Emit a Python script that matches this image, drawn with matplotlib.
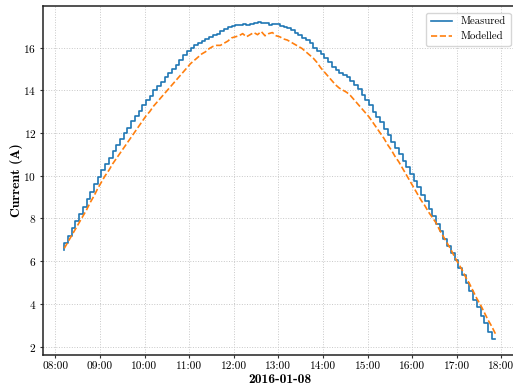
import matplotlib
matplotlib.use("Agg")
import matplotlib.pyplot as plt
import matplotlib.dates as mdates
import pandas as pd

start_time = "2016-01-08 08:12"
step = "5min"

measured = [
    6.50, 6.85, 7.20, 7.55, 7.90, 8.20, 8.55, 8.90, 9.25, 9.60,
    9.95, 10.25, 10.55, 10.85, 11.15, 11.45, 11.70, 12.00, 12.25, 12.55,
    12.80, 13.05, 13.30, 13.55, 13.75, 14.00, 14.20, 14.40, 14.60, 14.80,
    15.00, 15.20, 15.40, 15.65, 15.85, 16.00, 16.10, 16.20, 16.30, 16.40,
    16.50, 16.60, 16.65, 16.75, 16.85, 16.95, 17.00, 17.05, 17.05, 17.10,
    17.05, 17.10, 17.15, 17.20, 17.15, 17.15, 17.05, 17.10, 17.10, 17.00,
    16.95, 16.90, 16.80, 16.70, 16.60, 16.45, 16.35, 16.20, 16.00, 15.85,
    15.70, 15.50, 15.30, 15.10, 14.95, 14.80, 14.70, 14.60, 14.45, 14.25,
    14.05, 13.80, 13.55, 13.30, 13.00, 12.75, 12.50, 12.20, 11.90, 11.60,
    11.30, 11.00, 10.70, 10.40, 10.10, 9.75, 9.45, 9.10, 8.80, 8.45,
    8.10, 7.75, 7.40, 7.05, 6.70, 6.40, 6.05, 5.70, 5.35, 5.00,
    4.60, 4.20, 3.85, 3.45, 3.10, 2.70, 2.35,
]

modelled = [
    6.60, 6.90, 7.20, 7.50, 7.80, 8.10, 8.40, 8.75, 9.05, 9.40,
    9.70, 10.00, 10.25, 10.55, 10.80, 11.05, 11.30, 11.55, 11.80, 12.05,
    12.30, 12.55, 12.80, 13.00, 13.25, 13.45, 13.65, 13.85, 14.05, 14.25,
    14.45, 14.65, 14.85, 15.05, 15.25, 15.40, 15.55, 15.70, 15.80, 15.95,
    16.05, 16.10, 16.10, 16.20, 16.30, 16.45, 16.50, 16.55, 16.65, 16.50,
    16.60, 16.70, 16.60, 16.75, 16.55, 16.65, 16.70, 16.55, 16.50, 16.40,
    16.35, 16.25, 16.15, 16.05, 15.95, 15.80, 15.65, 15.50, 15.30, 15.05,
    14.85, 14.65, 14.45, 14.25, 14.10, 14.00, 13.90, 13.75, 13.55, 13.35,
    13.15, 12.95, 12.75, 12.50, 12.25, 12.00, 11.75, 11.45, 11.20, 10.90,
    10.65, 10.35, 10.05, 9.75, 9.45, 9.15, 8.85, 8.60, 8.30, 8.05,
    7.80, 7.45, 7.15, 6.85, 6.55, 6.20, 5.90, 5.60, 5.25, 4.95,
    4.60, 4.25, 3.95, 3.60, 3.25, 2.95, 2.60,
]

times = pd.date_range(start_time, periods=len(measured), freq=step)

plt.rcParams["font.family"] = "serif"
plt.rcParams["font.serif"] = ["cmr10", "DejaVu Serif"]
plt.rcParams["axes.formatter.use_mathtext"] = True

fig = plt.figure(figsize=(5.13, 3.9), dpi=100)
ax = fig.add_axes([0.0832, 0.0897, 0.9246, 0.8949])

ax.plot(times, measured, drawstyle="steps-pre", color="#1f77b4", lw=1.2, label="Measured")
ax.plot(times, modelled, ls="--", color="#ff7f0e", lw=1.2, label="Modelled")

ax.xaxis.set_major_locator(mdates.HourLocator())
ax.xaxis.set_major_formatter(mdates.DateFormatter("%H:%M"))

ax.grid(True, ls=":", color="#c8c8c8", lw=0.7)
ax.tick_params(labelsize=8.2, length=2.5, width=0.8, color="#333333", pad=2)
for s in ax.spines.values():
    s.set_color("#222222")
    s.set_linewidth(1.1)

ax.set_xlabel("2016-01-08", fontfamily=["cmb10"], fontsize=9.8, labelpad=2.5)
ax.set_ylabel("Current (A)", fontfamily=["cmb10"], fontsize=9.8, labelpad=0.5)

ax.legend(loc="upper right", fontsize=7.8, framealpha=0.8, borderaxespad=0.6)

fig.savefig("out.png", dpi=100)
